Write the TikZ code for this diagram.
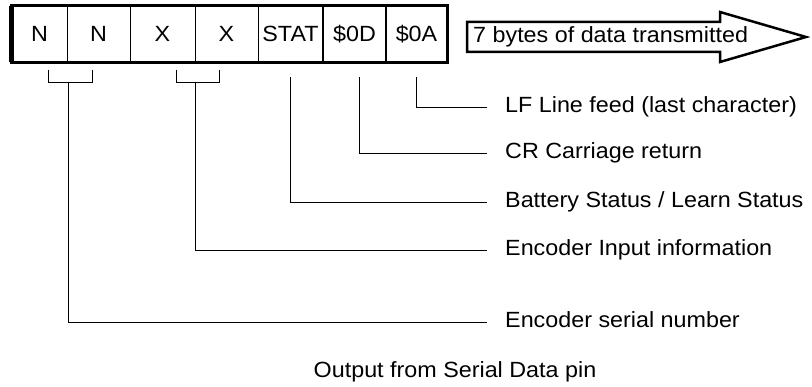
\documentclass[tikz,border=0pt]{standalone}
\usepackage{fontspec}
\setmainfont[FakeStretch=1.06]{Liberation Sans}

\tikzset{
  txt/.style={font=\fontsize{22}{26}\selectfont},
  cell/.style={rectangle,draw,line width=0.8pt,minimum height=56pt,inner sep=0pt,txt},
  lbl/.style={anchor=west,inner sep=0pt,text height=16pt,text depth=4pt,txt},
  link/.style={line width=0.9pt},
}

\begin{document}
\begin{tikzpicture}[x=1pt,y=-1pt]
\useasboundingbox (0,0) rectangle (812,387);
        % Serial data frame
\node[cell,minimum width=55pt] (n1) at (39.5,34) {N};
\node[cell,minimum width=63pt] (n2) at (98.5,34) {N};
\node[cell,minimum width=65pt] (x1) at (162.5,34) {X};
\node[cell,minimum width=63pt] (x2) at (226.5,34) {X};
\node[cell,minimum width=65pt] (stat) at (290.5,34) {STAT};
\node[cell,minimum width=63pt] (cr) at (354.5,34) {\$0D};
\node[cell,minimum width=61pt] (lf) at (416.5,34) {\$0A};
\draw[line width=3pt] (n1.north west) rectangle (lf.south east);
\draw[line width=5pt] (n1.north west) -- (n1.south west);
\draw[line width=1.6pt] (cr.north west) -- (cr.south west);
\draw[line width=1.6pt] (lf.north west) -- (lf.south west);

        % Direction arrow
\draw[line width=2.5pt] (467,22) -- (720,22) -- (720,12) -- (806,37) -- (720,62) -- (720,52) -- (467,52) -- cycle;
\node[lbl] (bytes) at (473,37) {7 bytes of data transmitted};

        % Field labels
\node[lbl] (lflbl) at (505,107) {LF Line feed (last character)};
\node[lbl] (crlbl) at (505,153) {CR Carriage return};
\node[lbl] (statlbl) at (505,202) {Battery Status / Learn Status};
\node[lbl] (inplbl) at (505,250) {Encoder Input information};
\node[lbl] (serlbl) at (505,322) {Encoder serial number};
\node[txt] (caption) at (455,372) {Output from Serial Data pin};

        % Brackets and leaders
\draw[link] (48,70) -- (48,82) -- (92,82) -- (92,70);
\draw[link] (176,70) -- (176,82) -- (219,82) -- (219,70);
\coordinate (nbr) at (68,82);
\coordinate (xbr) at (195,82);

\draw[link] ([yshift=-15pt]lf.south) |- ([xshift=-18pt]lflbl.west);
\draw[link] ([xshift=5pt,yshift=-15pt]cr.south) |- ([xshift=-18pt]crlbl.west);
\draw[link] ([yshift=-15pt]stat.south) |- ([xshift=-18pt]statlbl.west);
\draw[link] (xbr) |- ([xshift=-18pt]inplbl.west);
\draw[link] (nbr) |- ([xshift=-18pt]serlbl.west);
    \end{tikzpicture}
\end{document}
